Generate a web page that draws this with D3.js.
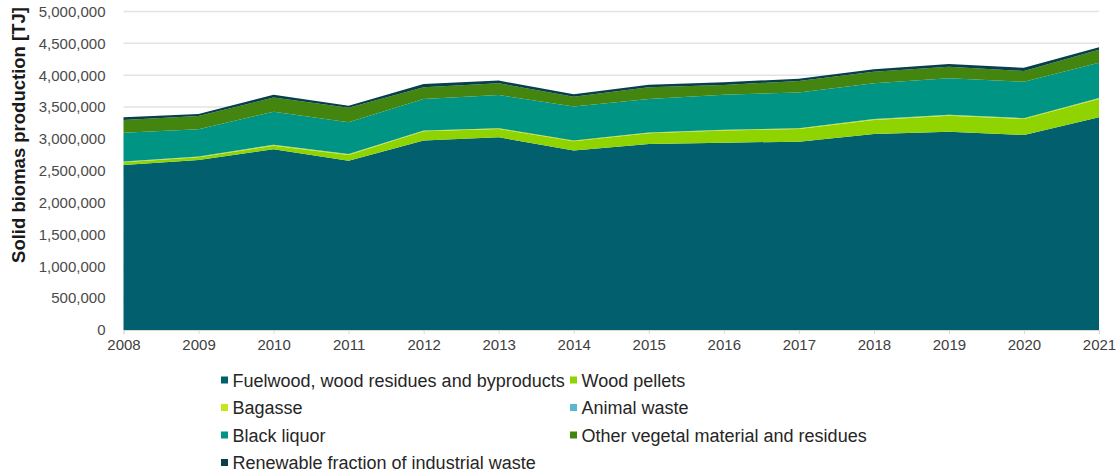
<!DOCTYPE html>
<html>
<head>
<meta charset="utf-8">
<script src="https://cdn.jsdelivr.net/npm/d3@7"></script>
<style>
  html, body { margin: 0; padding: 0; background: #fff; }
  svg { display: block; font-family: "Liberation Sans", Arial, sans-serif; }
</style>
</head>
<body>
<svg id="chart" width="1119" height="473"></svg>
<script>
const years = [2008, 2009, 2010, 2011, 2012, 2013, 2014, 2015, 2016, 2017, 2018, 2019, 2020, 2021];
const fuelwood = [2590000, 2669000, 2837000, 2658000, 2973000, 3025000, 2816000, 2920000, 2941000, 2957000, 3077000, 3114000, 3061000, 3339000];
const woodPellets = [42000, 42000, 57000, 90000, 146000, 131000, 147000, 168000, 189000, 199000, 221000, 251000, 252000, 289000];
const bagasse = [10000, 10000, 10000, 10000, 10000, 10000, 10000, 10000, 10000, 10000, 10000, 10000, 10000, 10000];
const animalWaste = [3000, 3000, 3000, 3000, 3000, 3000, 3000, 3000, 3000, 3000, 3000, 3000, 3000, 3000];
const blackLiquor = [453000, 427000, 521000, 499000, 495000, 521000, 531000, 526000, 552000, 558000, 562000, 573000, 572000, 556000];
const otherVegetal = [199000, 209000, 220000, 230000, 183000, 183000, 156000, 183000, 152000, 183000, 183000, 183000, 168000, 203000];
const renewableWaste = [42000, 30000, 47000, 32000, 50000, 42000, 37000, 42000, 42000, 36000, 37000, 42000, 50000, 40000];
const yTicks = [0, 500000, 1000000, 1500000, 2000000, 2500000, 3000000, 3500000, 4000000, 4500000, 5000000];

const seriesNames = [
  "Fuelwood, wood residues and byproducts",
  "Wood pellets",
  "Bagasse",
  "Animal waste",
  "Black liquor",
  "Other vegetal material and residues",
  "Renewable fraction of industrial waste"
];
const seriesValues = [fuelwood, woodPellets, bagasse, animalWaste, blackLiquor, otherVegetal, renewableWaste];
const colors = ["#02606e", "#8fd400", "#c8e41c", "#5bb6cf", "#009485", "#43850e", "#073f4b"];

const svg = d3.select("#chart");
const W = 1119, H = 473;
const margin = { left: 123.5, right: W - 1099, top: 11.5, bottom: H - 330 };

const x = d3.scaleLinear().domain([2008, 2021]).range([margin.left, W - margin.right]);
const y = d3.scaleLinear().domain([0, 5000000]).range([H - margin.bottom, margin.top]);

const table = years.map((yr, i) => {
  const row = { year: yr };
  seriesNames.forEach((n, k) => row[n] = seriesValues[k][i]);
  return row;
});
const stacked = d3.stack().keys(seriesNames)(table);

// gridlines
svg.append("g")
  .selectAll("line")
  .data(yTicks.filter(d => d > 0))
  .join("line")
  .attr("x1", x(2008)).attr("x2", x(2021))
  .attr("y1", d => y(d)).attr("y2", d => y(d))
  .attr("stroke", "#e3e3e3").attr("stroke-width", 1.5);

// areas
const area = d3.area()
  .x(d => x(d.data.year))
  .y0(d => y(d[0]))
  .y1(d => y(d[1]));
svg.append("g")
  .selectAll("path")
  .data(stacked)
  .join("path")
  .attr("d", area)
  .attr("fill", (d, i) => colors[i]);

// x axis
const xAxis = d3.axisBottom(x).tickValues(years).tickFormat(d3.format("d")).tickSize(4).tickPadding(5);
const gx = svg.append("g").attr("transform", `translate(0,${y(0)})`).call(xAxis);
gx.select(".domain").attr("stroke", "#d9d9d9").attr("stroke-width", 1.2);
gx.selectAll(".tick line").attr("stroke", "#d9d9d9");
gx.selectAll("text").attr("font-size", 15).attr("fill", "#404040")
  .attr("font-family", "'Liberation Sans', Arial, sans-serif");

// y axis
const yAxis = d3.axisLeft(y).tickValues(yTicks).tickFormat(d3.format(",")).tickSize(0).tickPadding(18);
const gy = svg.append("g").attr("transform", `translate(${margin.left},0)`).call(yAxis);
gy.select(".domain").remove();
gy.selectAll("text").attr("font-size", 15).attr("fill", "#4a4a4a")
  .attr("font-family", "'Liberation Sans', Arial, sans-serif");

// y title
svg.append("text")
  .attr("transform", `translate(25,135) rotate(-90)`)
  .attr("text-anchor", "middle")
  .attr("font-size", 18.5)
  .attr("font-weight", "bold")
  .attr("fill", "#1a1a1a")
  .text("Solid biomas production [TJ]");

// legend
const legendPos = [
  [224.5, 380], [573.5, 380],
  [224.5, 407.5], [573.5, 407.5],
  [224.5, 435], [573.5, 435],
  [224.5, 462.5]
];
const lg = svg.append("g");
seriesNames.forEach((n, i) => {
  const [lx, ly] = legendPos[i];
  lg.append("rect").attr("x", lx - 3.5).attr("y", ly - 3.5).attr("width", 7).attr("height", 7).attr("fill", colors[i]);
  lg.append("text").attr("x", lx + 8).attr("y", ly + 6.5)
    .attr("font-size", 18).attr("fill", "#262626")
    .text(n);
});
</script>
</body>
</html>
